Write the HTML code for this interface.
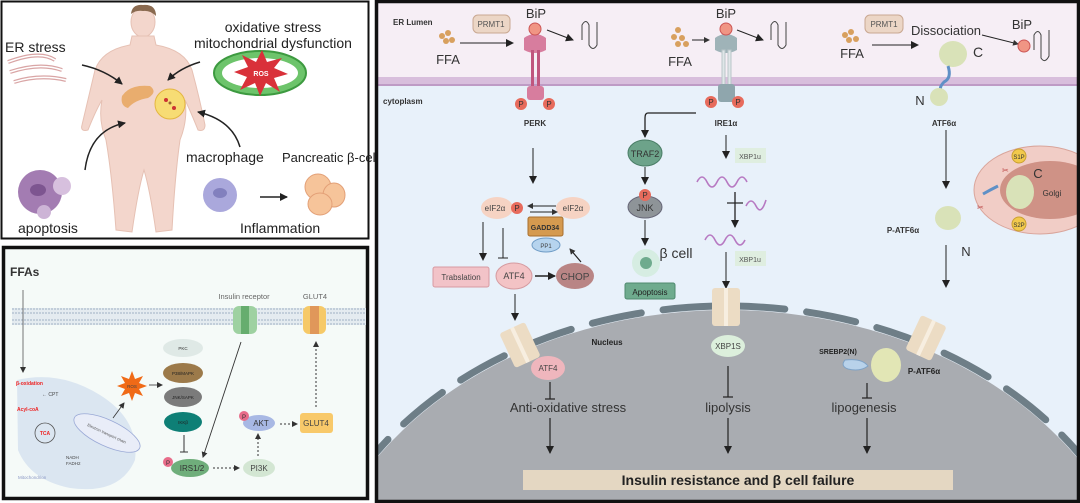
<!DOCTYPE html>
<html><head><meta charset="utf-8"><style>
html,body{margin:0;padding:0;background:#fff;width:1080px;height:503px;overflow:hidden}
svg{display:block;font-family:"Liberation Sans",sans-serif}
</style></head><body>
<svg width="1080" height="503" viewBox="0 0 1080 503" xmlns="http://www.w3.org/2000/svg">
<defs>
<marker id="a" markerWidth="8" markerHeight="8" refX="7" refY="4" orient="auto" markerUnits="userSpaceOnUse"><path d="M0,0 L8,4 L0,8 z" fill="#222"/></marker>
<marker id="as" markerWidth="6" markerHeight="6" refX="5" refY="3" orient="auto" markerUnits="userSpaceOnUse"><path d="M0,0 L6,3 L0,6 z" fill="#333"/></marker>
<clipPath id="rc"><rect x="377" y="2" width="701" height="499"/></clipPath>
</defs>
<rect width="1080" height="503" fill="#fff"/>

<!-- TOP LEFT PANEL -->
<rect x="1.5" y="1.5" width="367" height="237" fill="#fff" stroke="#111" stroke-width="2"/>
<text x="5" y="52" font-size="14" fill="#222">ER stress</text>
<g fill="none" stroke="#d9a5a5" stroke-width="4">
<path d="M8,62 Q40,50 55,60"/><path d="M10,72 Q40,62 62,70"/><path d="M14,82 Q40,74 66,80"/>
</g>
<g fill="none" stroke="#fff" stroke-width="1.5">
<path d="M8,62 Q40,50 55,60"/><path d="M10,72 Q40,62 62,70"/><path d="M14,82 Q40,74 66,80"/>
</g>
<text x="273" y="32" font-size="14" fill="#222" text-anchor="middle">oxidative stress</text>
<text x="273" y="48" font-size="14" fill="#222" text-anchor="middle">mitochondrial dysfunction</text>
<ellipse cx="260" cy="73" rx="46" ry="22" fill="#6dc46b" stroke="#3d9a40" stroke-width="2"/>
<ellipse cx="260" cy="73" rx="38" ry="15" fill="#fff"/>
<path d="M262,50 L267,62 L282,58 L274,68 L288,74 L274,78 L280,92 L266,83 L260,96 L255,83 L240,90 L247,77 L234,72 L248,67 L242,55 L256,62 z" fill="#d9313a"/>
<text x="261" y="76" font-size="7" fill="#fff" text-anchor="middle" font-weight="bold">ROS</text>
<g fill="#f3d6cc" stroke="#e6c1b4" stroke-width="1">
<ellipse cx="143" cy="22" rx="12" ry="15"/>
<path d="M132,36 L154,36 L156,45 Q185,50 192,70 Q200,100 205,125 Q205,132 198,130 Q190,110 185,100 Q188,120 180,140 Q175,175 172,230 L156,232 Q150,190 144,170 Q138,190 132,232 L116,230 Q112,175 106,140 Q98,120 102,100 Q96,110 88,130 Q80,132 82,125 Q88,100 95,70 Q102,50 130,45 z"/>
</g>
<path d="M131,14 Q132,4 143,5 Q156,4 156,16 Q150,10 143,11 Q136,10 131,14 z" fill="#8a6a50"/>
<path d="M122,96 Q130,84 150,86 Q158,92 148,98 Q135,100 128,108 Q120,106 122,96 z" fill="#e9ad6e"/>
<circle cx="170" cy="104" r="15" fill="#f7dc74" stroke="#e4b640"/>
<circle cx="166" cy="100" r="2" fill="#c33"/><circle cx="174" cy="108" r="2" fill="#c33"/><circle cx="170" cy="103" r="1.5" fill="#963"/>
<g fill="none" stroke="#222" stroke-width="1.5" marker-end="url(#a)">
<path d="M82,65 Q105,70 122,84"/>
<path d="M200,62 Q180,68 168,80"/>
<path d="M85,170 Q90,130 125,123"/>
<path d="M240,147 Q232,120 198,112"/>
<path d="M260,197 L287,197"/>
</g>
<circle cx="40" cy="192" r="22" fill="#a37cb2"/><circle cx="62" cy="186" r="9" fill="#d7c0de"/><circle cx="44" cy="212" r="7" fill="#cdb4d6"/>
<ellipse cx="38" cy="190" rx="8" ry="6" fill="#7d5590"/>
<text x="18" y="233" font-size="14" fill="#222">apoptosis</text>
<text x="186" y="162" font-size="14" fill="#222">macrophage</text>
<circle cx="220" cy="195" r="17" fill="#aaa8dc"/><ellipse cx="220" cy="193" rx="7" ry="5" fill="#8280be"/>
<text x="282" y="162" font-size="13" fill="#222">Pancreatic β-cell</text>
<g fill="#f6c49a" stroke="#e3a077"><ellipse cx="318" cy="187" rx="13" ry="13"/><ellipse cx="334" cy="195" rx="11" ry="12"/><ellipse cx="320" cy="204" rx="12" ry="11"/></g>
<text x="240" y="233" font-size="14" fill="#222">Inflammation</text>

<!-- BOTTOM LEFT PANEL -->
<rect x="3.5" y="247.5" width="364" height="251" fill="#f5faf8" stroke="#111" stroke-width="3.5"/>
<text x="10" y="276" font-size="12" font-weight="bold" fill="#333">FFAs</text>
<rect x="12" y="308" width="354" height="17" fill="#e4ebf0"/>
<g stroke="#9fb0c4" stroke-width="1" stroke-dasharray="2,1"><line x1="12" y1="309" x2="366" y2="309"/><line x1="12" y1="313" x2="366" y2="313"/><line x1="12" y1="320" x2="366" y2="320"/><line x1="12" y1="324" x2="366" y2="324"/></g>
<text x="244" y="299" font-size="7.5" fill="#666" text-anchor="middle">Insulin  receptor</text>
<text x="315" y="299" font-size="7.5" fill="#666" text-anchor="middle">GLUT4</text>
<rect x="233" y="306" width="24" height="28" rx="6" fill="#9ed1a1"/><rect x="241" y="306" width="8" height="28" fill="#66ad6e"/>
<rect x="303" y="306" width="23" height="28" rx="6" fill="#f6c968"/><rect x="310" y="306" width="9" height="28" fill="#e0975a"/>
<path d="M17,380 Q60,370 100,395 Q140,420 135,460 Q120,495 70,488 Q30,480 18,450 z" fill="#dbe6f1"/>
<line x1="23" y1="290" x2="23" y2="372" stroke="#555" stroke-width="0.8" marker-end="url(#as)"/>
<text x="16" y="385" font-size="5" fill="#e22" font-weight="bold">β-oxidation</text>
<text x="42" y="396" font-size="5" fill="#444">← CPT</text>
<text x="17" y="411" font-size="5" fill="#e22" font-weight="bold">Acyl-coA</text>
<circle cx="45" cy="433" r="10" fill="none" stroke="#555" stroke-width="0.8"/>
<text x="45" y="435" font-size="5" fill="#e22" text-anchor="middle" font-weight="bold">TCA</text>
<text x="66" y="459" font-size="4.5" fill="#444">NADH</text><text x="66" y="465" font-size="4.5" fill="#444">FADH2</text>
<text x="18" y="479" font-size="4.5" fill="#8a97c4">Mitochondrion</text>
<ellipse cx="107" cy="433" rx="36" ry="13" transform="rotate(25 107 433)" fill="#e9edf8" stroke="#9aa9d6" stroke-width="0.8"/>
<text x="107" y="435" font-size="4" fill="#555" text-anchor="middle" transform="rotate(25 107 433)">Electron transport chain</text>
<line x1="113" y1="418" x2="124" y2="403" stroke="#333" stroke-width="0.8" marker-end="url(#as)"/>
<path d="M132,371 L135,379 L143,376 L139,383 L147,386 L139,389 L143,396 L135,393 L132,401 L129,393 L121,396 L125,389 L117,386 L125,383 L121,376 L129,379 z" fill="#f06a17"/>
<text x="132" y="388" font-size="4.5" fill="#444" text-anchor="middle">ROS</text>
<line x1="149" y1="385" x2="162" y2="385" stroke="#333" stroke-width="0.8" marker-end="url(#as)"/>
<ellipse cx="183" cy="348" rx="20" ry="9" fill="#dfe9e6"/><text x="183" y="350" font-size="4.5" text-anchor="middle" fill="#333">PKC</text>
<ellipse cx="183" cy="373" rx="20" ry="10" fill="#9c7a4a"/><text x="183" y="375" font-size="4.5" text-anchor="middle" fill="#222">P38/MAPK</text>
<ellipse cx="183" cy="397" rx="19" ry="10" fill="#7b7b7b"/><text x="183" y="399" font-size="4.5" text-anchor="middle" fill="#222">JNK/SAPK</text>
<ellipse cx="183" cy="422" rx="19" ry="10" fill="#0e7f76"/><text x="183" y="424" font-size="4.5" text-anchor="middle" fill="#222">IKKβ</text>
<line x1="184" y1="435" x2="184" y2="452" stroke="#333"/><line x1="180" y1="452" x2="188" y2="452" stroke="#333"/>
<ellipse cx="190" cy="468" rx="19" ry="9" fill="#6fae7b"/><text x="192" y="471" font-size="8" text-anchor="middle" fill="#333">IRS1/2</text>
<circle cx="168" cy="462" r="5" fill="#e86c8a"/><text x="168" y="465" font-size="6" text-anchor="middle" fill="#333">P</text>
<line x1="241" y1="342" x2="203" y2="457" stroke="#333" stroke-width="0.9" marker-end="url(#as)"/>
<line x1="213" y1="468" x2="239" y2="468" stroke="#333" stroke-dasharray="2,2" marker-end="url(#as)"/>
<ellipse cx="259" cy="468" rx="16" ry="9" fill="#d3e6d3"/><text x="259" y="471" font-size="8" text-anchor="middle" fill="#444">PI3K</text>
<line x1="258" y1="456" x2="258" y2="434" stroke="#333" stroke-dasharray="2,2" marker-end="url(#as)"/>
<ellipse cx="259" cy="423" rx="16" ry="8" fill="#a8b8e4"/><text x="261" y="426" font-size="8" text-anchor="middle" fill="#333">AKT</text>
<circle cx="244" cy="416" r="5" fill="#e86c8a"/><text x="244" y="419" font-size="6" text-anchor="middle" fill="#333">P</text>
<line x1="280" y1="424" x2="297" y2="424" stroke="#333" stroke-dasharray="2,2" marker-end="url(#as)"/>
<rect x="300" y="413" width="33" height="20" rx="3" fill="#f8c96a"/><text x="316" y="426" font-size="8" text-anchor="middle" fill="#444">GLUT4</text>
<line x1="316" y1="407" x2="316" y2="342" stroke="#333" stroke-dasharray="2,2" marker-end="url(#as)"/>

<!-- RIGHT PANEL -->
<g clip-path="url(#rc)">
<rect x="377" y="2" width="701" height="499" fill="#e8f1fa"/>
<rect x="377" y="2" width="701" height="75" fill="#f6eef5"/>
<rect x="377" y="77" width="701" height="9" fill="#d8bedc"/>
<line x1="377" y1="85" x2="1078" y2="85" stroke="#b58fbd" stroke-width="1.5"/>
<ellipse cx="727" cy="640" rx="420" ry="330" fill="#a9acb1"/>
<ellipse cx="727" cy="640" rx="424" ry="334" fill="none" stroke="#6e7e87" stroke-width="7" stroke-linecap="round" stroke-dasharray="50,22"/>
<rect x="523" y="470" width="430" height="20" fill="#e4d7c2"/>
<text x="738" y="485" font-size="14" font-weight="bold" text-anchor="middle" fill="#222">Insulin resistance and  β cell failure</text>
<ellipse cx="1040" cy="190" rx="66" ry="44" fill="#f1cdc6" stroke="#d9a59b"/>
<ellipse cx="1050" cy="190" rx="50" ry="29" fill="#cf9286"/>
<ellipse cx="1020" cy="192" rx="14" ry="17" fill="#d9e2b8"/>
<circle cx="1019" cy="156" r="7" fill="#f2c94c" stroke="#c9a030"/><text x="1019" y="159" font-size="6" text-anchor="middle" fill="#333">S1P</text>
<circle cx="1019" cy="224" r="7" fill="#f2c94c" stroke="#c9a030"/><text x="1019" y="227" font-size="6" text-anchor="middle" fill="#333">S2P</text>
<text x="1038" y="178" font-size="13" text-anchor="middle" fill="#333">C</text>
<text x="1052" y="196" font-size="8" text-anchor="middle" fill="#333">Golgi</text>
<path d="M983,194 Q990,190 998,186" fill="none" stroke="#5f90c6" stroke-width="3"/>
<text x="1002" y="173" font-size="8" fill="#b44">✂</text><text x="977" y="210" font-size="8" fill="#b44">✂</text>
</g>
<rect x="376.5" y="1.5" width="702" height="500" fill="none" stroke="#111" stroke-width="3.5"/>
<text x="393" y="25" font-size="8" font-weight="bold" fill="#333">ER Lumen</text>
<text x="383" y="104" font-size="8" font-weight="bold" fill="#333">cytoplasm</text>
<!-- PERK -->
<rect x="473" y="15" width="37" height="18" rx="5" fill="#ecd6c6" stroke="#c9a892"/><text x="491" y="27" font-size="8" text-anchor="middle" fill="#555">PRMT1</text>
<g fill="#d8a05e"><circle cx="442" cy="36" r="3"/><circle cx="448" cy="33" r="3"/><circle cx="446" cy="41" r="3"/><circle cx="452" cy="40" r="3"/></g>
<text x="448" y="64" font-size="13" text-anchor="middle" fill="#333">FFA</text>
<line x1="460" y1="43" x2="513" y2="43" stroke="#222" marker-end="url(#a)"/>
<text x="536" y="18" font-size="13" text-anchor="middle" fill="#333">BiP</text>
<path d="M524,38 Q535,30 546,38 L546,50 Q535,56 524,50 z" fill="#d77d9e"/>
<rect x="531" y="50" width="3" height="50" fill="#c0557e"/><rect x="537" y="50" width="3" height="50" fill="#c0557e"/>
<rect x="527" y="86" width="17" height="14" rx="3" fill="#d77d9e"/>
<circle cx="535" cy="29" r="6" fill="#f09584" stroke="#c55"/>
<line x1="547" y1="30" x2="573" y2="40" stroke="#222" marker-end="url(#a)"/>
<path d="M582,40 L582,25 Q586,18 589,25 L589,45 Q593,52 597,45 L597,22" fill="none" stroke="#444"/>
<circle cx="521" cy="104" r="6" fill="#e76b5c"/><text x="521" y="107" font-size="8" text-anchor="middle" fill="#333">P</text>
<circle cx="549" cy="104" r="6" fill="#e76b5c"/><text x="549" y="107" font-size="8" text-anchor="middle" fill="#333">P</text>
<text x="535" y="126" font-size="8" font-weight="bold" text-anchor="middle" fill="#333">PERK</text>
<line x1="533" y1="148" x2="533" y2="183" stroke="#222" marker-end="url(#a)"/>
<ellipse cx="497" cy="208" rx="16" ry="11" fill="#f6d3c3"/><text x="495" y="211" font-size="8" text-anchor="middle" fill="#444">eIF2α</text>
<circle cx="517" cy="208" r="6" fill="#e76b5c"/><text x="517" y="211" font-size="8" text-anchor="middle" fill="#333">P</text>
<ellipse cx="573" cy="208" rx="17" ry="11" fill="#f6d3c3"/><text x="573" y="211" font-size="8" text-anchor="middle" fill="#444">eIF2α</text>
<line x1="556" y1="206" x2="528" y2="206" stroke="#222" marker-end="url(#as)"/>
<line x1="530" y1="212" x2="557" y2="212" stroke="#222" marker-end="url(#as)"/>
<rect x="528" y="217" width="35" height="19" rx="2" fill="#d59a4f" stroke="#a86f2e"/><text x="545" y="230" font-size="7" font-weight="bold" text-anchor="middle" fill="#333">GADD34</text>
<ellipse cx="546" cy="245" rx="14" ry="7" fill="#b6d4ee" stroke="#6f9cc6"/><text x="546" y="248" font-size="6" text-anchor="middle" fill="#444">PP1</text>
<line x1="483" y1="222" x2="483" y2="260" stroke="#222" marker-end="url(#a)"/>
<line x1="503" y1="228" x2="503" y2="258" stroke="#222"/><line x1="498" y1="258" x2="508" y2="258" stroke="#222"/>
<rect x="433" y="267" width="56" height="20" rx="2" fill="#f2c3c8" stroke="#d79aa2"/><text x="461" y="280" font-size="8" text-anchor="middle" fill="#444">Trabslation</text>
<ellipse cx="514" cy="276" rx="18" ry="13" fill="#f3c3c5" stroke="#d59ba0"/><text x="514" y="279" font-size="9" text-anchor="middle" fill="#444">ATF4</text>
<line x1="535" y1="276" x2="555" y2="276" stroke="#222" stroke-width="1.5" marker-end="url(#a)"/>
<ellipse cx="575" cy="276" rx="19" ry="13" fill="#b98585"/><text x="575" y="280" font-size="10" text-anchor="middle" fill="#444">CHOP</text>
<line x1="581" y1="262" x2="570" y2="249" stroke="#222" stroke-width="1.2" marker-end="url(#as)"/>
<line x1="515" y1="294" x2="515" y2="320" stroke="#222" marker-end="url(#a)"/>
<!-- IRE1 -->
<g fill="#d8a05e"><circle cx="678" cy="30" r="3"/><circle cx="674" cy="37" r="3"/><circle cx="682" cy="38" r="3"/><circle cx="678" cy="44" r="3"/><circle cx="686" cy="44" r="3"/></g>
<line x1="692" y1="40" x2="709" y2="40" stroke="#222" marker-end="url(#as)"/>
<text x="680" y="66" font-size="13" text-anchor="middle" fill="#333">FFA</text>
<text x="726" y="18" font-size="13" text-anchor="middle" fill="#333">BiP</text>
<path d="M715,38 Q726,30 737,38 L737,50 Q726,56 715,50 z" fill="#9fb3b8"/>
<rect x="722" y="50" width="3" height="38" fill="#dfe6e8" stroke="#b9c5c9"/><rect x="728" y="50" width="3" height="38" fill="#dfe6e8" stroke="#b9c5c9"/>
<rect x="718" y="84" width="17" height="18" rx="3" fill="#8fa6ad"/>
<circle cx="726" cy="29" r="6" fill="#f09584" stroke="#c55"/>
<line x1="737" y1="30" x2="763" y2="40" stroke="#222" marker-end="url(#a)"/>
<path d="M771,40 L771,25 Q775,18 778,25 L778,45 Q782,52 786,45 L786,22" fill="none" stroke="#444"/>
<circle cx="711" cy="102" r="6" fill="#e76b5c"/><text x="711" y="105" font-size="8" text-anchor="middle" fill="#333">P</text>
<circle cx="738" cy="102" r="6" fill="#e76b5c"/><text x="738" y="105" font-size="8" text-anchor="middle" fill="#333">P</text>
<text x="726" y="126" font-size="8" font-weight="bold" text-anchor="middle" fill="#333">IRE1α</text>
<path d="M696,113 L648,113 Q645,113 645,118 L645,137" fill="none" stroke="#222" stroke-width="1.3" marker-end="url(#a)"/>
<ellipse cx="645" cy="153" rx="17" ry="13" fill="#6da38a" stroke="#4a7d66"/><text x="645" y="157" font-size="9" text-anchor="middle" fill="#333">TRAF2</text>
<line x1="645" y1="167" x2="645" y2="184" stroke="#222" marker-end="url(#a)"/>
<ellipse cx="645" cy="207" rx="17" ry="11" fill="#8e9498" stroke="#667"/><text x="645" y="211" font-size="9" text-anchor="middle" fill="#333">JNK</text>
<circle cx="645" cy="195" r="6" fill="#e76b5c"/><text x="645" y="198" font-size="8" text-anchor="middle" fill="#333">P</text>
<line x1="645" y1="220" x2="645" y2="245" stroke="#222" marker-end="url(#a)"/>
<circle cx="646" cy="263" r="14" fill="#d6ede2"/><circle cx="646" cy="263" r="6" fill="#6fab8e"/>
<text x="676" y="258" font-size="14" text-anchor="middle" fill="#333">β cell</text>
<rect x="625" y="283" width="50" height="16" rx="2" fill="#6fab8e" stroke="#4f8a6f"/><text x="650" y="295" font-size="8" text-anchor="middle" fill="#222">Apoptosis</text>
<line x1="726" y1="135" x2="726" y2="158" stroke="#222" marker-end="url(#a)"/>
<rect x="735" y="148" width="31" height="15" fill="#dfeee0"/><text x="750" y="159" font-size="7" text-anchor="middle" fill="#555">XBP1u</text>
<path d="M697,182 q5,-10 10,0 q5,10 10,0 q5,-10 10,0 q5,10 10,0 q5,-10 10,0" fill="none" stroke="#b779c2" stroke-width="1.6"/>
<line x1="735" y1="192" x2="735" y2="227" stroke="#222" stroke-width="1.3" marker-end="url(#a)"/>
<line x1="727" y1="203" x2="743" y2="203" stroke="#222" stroke-width="1.2"/>
<path d="M746,206 q5,-10 10,0 q5,10 10,-6" fill="none" stroke="#b779c2" stroke-width="1.6"/>
<path d="M705,240 q5,-10 10,0 q5,10 10,0 q5,-10 10,0 q5,10 10,0" fill="none" stroke="#b779c2" stroke-width="1.6"/>
<rect x="735" y="251" width="31" height="15" fill="#dfeee0"/><text x="750" y="262" font-size="7" text-anchor="middle" fill="#555">XBP1u</text>
<line x1="726" y1="252" x2="726" y2="288" stroke="#222" marker-end="url(#a)"/>
<!-- ATF6 -->
<rect x="865" y="15" width="38" height="18" rx="5" fill="#ecd6c6" stroke="#c9a892"/><text x="884" y="27" font-size="8" text-anchor="middle" fill="#555">PRMT1</text>
<g fill="#d8a05e"><circle cx="845" cy="35" r="3"/><circle cx="851" cy="32" r="3"/><circle cx="849" cy="40" r="3"/><circle cx="856" cy="39" r="3"/></g>
<text x="852" y="58" font-size="13" text-anchor="middle" fill="#333">FFA</text>
<line x1="872" y1="45" x2="918" y2="45" stroke="#222" marker-end="url(#a)"/>
<text x="946" y="35" font-size="13" text-anchor="middle" fill="#333">Dissociation</text>
<text x="1022" y="29" font-size="13" text-anchor="middle" fill="#333">BiP</text>
<line x1="982" y1="35" x2="1018" y2="44" stroke="#222" marker-end="url(#as)"/>
<circle cx="1024" cy="46" r="6" fill="#f09584" stroke="#c55"/>
<path d="M1034,50 L1034,35 Q1038,28 1041,35 L1041,58 Q1045,64 1049,56 L1049,30" fill="none" stroke="#444"/>
<ellipse cx="953" cy="54" rx="14" ry="13" fill="#d9e2b8"/>
<text x="978" y="57" font-size="14" text-anchor="middle" fill="#333">C</text>
<path d="M948,66 Q952,78 944,82 Q938,88 942,92" fill="none" stroke="#5f90c6" stroke-width="3"/>
<circle cx="939" cy="97" r="9" fill="#d9e2b8"/>
<text x="920" y="105" font-size="13" text-anchor="middle" fill="#333">N</text>
<text x="944" y="126" font-size="8" font-weight="bold" text-anchor="middle" fill="#333">ATF6α</text>
<line x1="946" y1="130" x2="946" y2="188" stroke="#222" marker-end="url(#a)"/>
<ellipse cx="948" cy="218" rx="13" ry="12" fill="#d9e2b8"/>
<text x="903" y="233" font-size="8" font-weight="bold" text-anchor="middle" fill="#333">P-ATF6α</text>
<text x="966" y="256" font-size="13" text-anchor="middle" fill="#333">N</text>
<line x1="946" y1="245" x2="946" y2="287" stroke="#222" marker-end="url(#a)"/>
<!-- pores -->
<rect x="712" y="288" width="28" height="38" rx="3" fill="#ecdcc4"/><rect x="724" y="288" width="4" height="38" fill="#f7eee0"/>
<g transform="rotate(-25 520 345)"><rect x="506" y="326" width="28" height="38" rx="3" fill="#ecdcc4"/><rect x="518" y="326" width="4" height="38" fill="#f7eee0"/></g>
<g transform="rotate(25 926 338)"><rect x="912" y="319" width="28" height="38" rx="3" fill="#ecdcc4"/><rect x="924" y="319" width="4" height="38" fill="#f7eee0"/></g>
<text x="607" y="345" font-size="8" font-weight="bold" text-anchor="middle" fill="#222">Nucleus</text>
<ellipse cx="548" cy="368" rx="17" ry="12" fill="#efb6bd"/><text x="548" y="371" font-size="8" text-anchor="middle" fill="#444">ATF4</text>
<ellipse cx="728" cy="346" rx="17" ry="11" fill="#dcefdc"/><text x="728" y="349" font-size="8" text-anchor="middle" fill="#444">XBP1S</text>
<text x="838" y="354" font-size="7" font-weight="bold" text-anchor="middle" fill="#222">SREBP2(N)</text>
<path d="M845,360 Q862,358 868,366 Q860,372 848,369 Q840,366 845,360 z" fill="#b8d2ea" stroke="#7ea2c6"/>
<ellipse cx="886" cy="365" rx="15" ry="17" fill="#e2e6b5"/>
<text x="924" y="374" font-size="8" font-weight="bold" text-anchor="middle" fill="#222">P-ATF6α</text>
<g stroke="#222" stroke-width="1.2">
<line x1="550" y1="382" x2="550" y2="399"/><line x1="545" y1="399" x2="555" y2="399"/>
<line x1="728" y1="366" x2="728" y2="397"/><line x1="723" y1="397" x2="733" y2="397"/>
<line x1="867" y1="383" x2="867" y2="398"/><line x1="862" y1="398" x2="872" y2="398"/>
</g>
<text x="568" y="412" font-size="13" text-anchor="middle" fill="#333">Anti-oxidative stress</text>
<text x="728" y="412" font-size="13" text-anchor="middle" fill="#333">lipolysis</text>
<text x="864" y="412" font-size="13" text-anchor="middle" fill="#333">lipogenesis</text>
<g stroke="#222" stroke-width="1.2" marker-end="url(#a)">
<line x1="550" y1="418" x2="550" y2="453"/><line x1="728" y1="418" x2="728" y2="453"/><line x1="867" y1="418" x2="867" y2="453"/>
</g>
</svg>
</body></html>
